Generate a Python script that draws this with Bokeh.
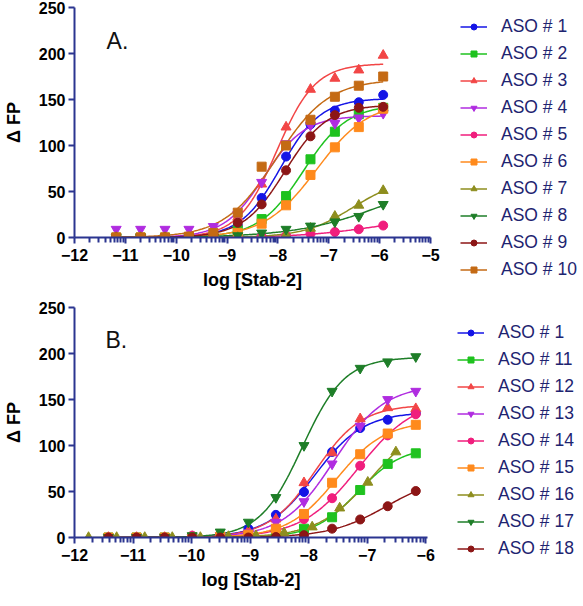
import numpy as np
from bokeh.plotting import figure
from bokeh.layouts import column
from bokeh.models import FixedTicker, Legend, LegendItem, Label
from bokeh.embed import file_html
from bokeh.resources import INLINE

FONT = "Liberation Sans"
AXIS_COLOR = "#2B3590"
LEGEND_TEXT = "#1E2470"

# ---------------- Panel A data ----------------
log_conc_a = [-11.18, -10.70, -10.22, -9.75, -9.27, -8.79, -8.32, -7.84, -7.36, -6.88, -6.41, -5.93]
names_a = ["ASO # 1", "ASO # 2", "ASO # 3", "ASO # 4", "ASO # 5",
           "ASO # 6", "ASO # 7", "ASO # 8", "ASO # 9", "ASO # 10"]
aso1_a = [0, 0, 0, 1, 4, 13, 43, 88, 123, 138, 147, 155]
aso2_a = [0, 0, 0, 0, 1, 8, 20, 45, 85, 115, 134, 141]
aso3_a = [0, 0, 0, 0, 3, 22, 58, 120, 161, 173, 182, 198]
aso4_a = [9, 9, 9, 9, 12, 25, 60, 102, 122, 124, 130, 135]
aso5_a = [0, 0, 0, 0, 0, 0, 1, 2, 4, 6, 9, 13]
aso6_a = [0, 0, 0, 0, 1, 5, 15, 35, 68, 98, 120, 140]
aso7_a = [0, 0, 0, 0, 0, 0, 1, 3, 10, 23, 35, 51]
aso8_a = [0, 0, 0, 0, 0, 2, 5, 9, 12.5, 17, 23, 36]
aso9_a = [0, 0, 0, 0, 3, 16, 36, 73, 110, 133, 141, 142]
aso10_a = [0, 0, 0, 1, 5, 27, 77, 100, 128, 153, 165, 175]
values_a = [aso1_a, aso2_a, aso3_a, aso4_a, aso5_a, aso6_a, aso7_a, aso8_a, aso9_a, aso10_a]
xs_a = [log_conc_a] * 10

# ---------------- Panel B data ----------------
log_conc_b = [-11.42, -10.94, -10.46, -9.99, -9.51, -9.03, -8.56, -8.08, -7.60, -7.12, -6.65, -6.17]
log_conc_b16 = [-11.76, -11.28, -10.80, -10.33, -9.85, -9.37, -8.90, -8.42, -7.94, -7.47, -6.99, -6.51]
names_b = ["ASO # 1", "ASO # 11", "ASO # 12", "ASO # 13", "ASO # 14",
           "ASO # 15", "ASO # 16", "ASO # 17", "ASO # 18"]
aso1_b = [0, 0, 0, 1, 3, 9.6, 24.6, 49.5, 93, 119, 128, 135]
aso11_b = [0, 0, 0, 0, 0, 1, 3, 9.6, 22, 51.6, 80, 91.5]
aso12_b = [0, 0, 0, 1, 3, 7, 20, 59.5, 92, 129, 141, 140]
aso13_b = [0, 0, 0, 0, 2, 5, 16.7, 39, 80, 121, 150, 159]
aso14_b = [0, 0, 0, 2, 1, 2, 8, 20, 42.7, 78, 111, 134]
aso15_b = [0, 0, 0, 0, 1, 3, 9.6, 25.6, 59.5, 90.5, 113, 122.5]
aso16_b = [0, 0, 0, 0, 0, 1, 2, 5, 11.4, 32, 60, 93]
aso17_b = [0, 0, 0, 2, 6, 16.7, 43.5, 100, 159, 184, 191, 196.6]
aso18_b = [0, 0, 0, 0, 0, 0, 0.5, 2.5, 9.6, 19.6, 34, 50.5]
values_b = [aso1_b, aso11_b, aso12_b, aso13_b, aso14_b, aso15_b, aso16_b, aso17_b, aso18_b]
xs_b = [log_conc_b] * 6 + [log_conc_b16] + [log_conc_b] * 2

colors_a = ["#1414E6", "#1FC21F", "#F24646", "#B02CE0", "#F01E7D",
            "#FF8A1C", "#8E8E1E", "#1E7E28", "#8C1616", "#C46A14"]
markers_a = ["circle", "square", "triangle", "inverted_triangle", "circle",
             "square", "triangle", "inverted_triangle", "circle", "square"]
colors_b = colors_a[:9]
markers_b = markers_a[:9]

x_ticks_a = list(range(-12, -4))
x_ticks_b = list(range(-12, -5))
y_ticks = [0, 50, 100, 150, 200, 250]


def fit_curve(xs, ys):
    """Least-squares fit of a sigmoid (bottom 0): top, logEC50, hill."""
    x = np.asarray(xs, float)
    y = np.asarray(ys, float)
    cs = np.arange(-10.0, -3.0, 0.01)
    hs = np.arange(0.5, 2.51, 0.05)
    C, H = np.meshgrid(cs, hs, indexing="ij")
    f = 1.0 / (1.0 + 10 ** ((C[..., None] - x) * H[..., None]))
    top = (f * y).sum(-1) / (f * f).sum(-1)
    sse = ((y - top[..., None] * f) ** 2).sum(-1)
    i = np.unravel_index(np.argmin(sse), sse.shape)
    c, h, t = C[i], H[i], top[i]
    xc = np.linspace(x.min(), x.max(), 200)
    yc = t / (1.0 + 10 ** ((c - xc) * h))
    return xc, yc


def minor_ticks(lo, hi):
    out = []
    for d in range(lo, hi):
        for k in range(2, 10):
            out.append(round(float(d + np.log10(k)), 4))
    return out


def style_axes(p):
    for ax in (p.xaxis[0], p.yaxis[0]):
        ax.axis_line_color = AXIS_COLOR
        ax.axis_line_width = 2
        ax.major_tick_line_color = AXIS_COLOR
        ax.major_tick_line_width = 2
        ax.major_tick_out = 6
        ax.major_tick_in = 0
        ax.minor_tick_line_color = AXIS_COLOR
        ax.minor_tick_line_width = 2
        ax.minor_tick_out = 5
        ax.minor_tick_in = 0
        ax.major_label_text_font = FONT
        ax.major_label_text_font_style = "bold"
        ax.major_label_text_font_size = "16px"
        ax.major_label_text_color = "black"
        ax.axis_label_text_font = FONT
        ax.axis_label_text_font_style = "bold"
        ax.axis_label_text_font_size = "18px"
        ax.axis_label_text_color = "black"
    p.yaxis.minor_tick_line_color = None
    p.xaxis.major_label_standoff = 5
    p.yaxis.major_label_standoff = 3
    p.xaxis.axis_label_standoff = 6
    p.yaxis.axis_label_standoff = 12
    p.xgrid.visible = False
    p.ygrid.visible = False
    p.outline_line_color = None


def make_panel(xs_list, vals, names, colors, markers, x_end, x_ticks, minor_hi,
               frame_w, right, top, bottom, letter, letter_x, letter_y, leg_y):
    p = figure(frame_width=frame_w, frame_height=230,
               x_range=(-12, x_end), y_range=(0, 250),
               output_backend="svg", toolbar_location=None,
               min_border_left=73, min_border_right=right,
               min_border_top=top, min_border_bottom=bottom,
               background_fill_color="white", border_fill_color="white")
    p.xaxis.ticker = FixedTicker(ticks=x_ticks, minor_ticks=minor_ticks(-12, minor_hi))
    p.yaxis.ticker = FixedTicker(ticks=y_ticks)
    p.xaxis.axis_label = "log [Stab-2]"
    p.yaxis.axis_label = "\u0394 FP"
    style_axes(p)

    line_rs = []
    for xs, ys, c in zip(xs_list, vals, colors):
        xc, yc = fit_curve(xs, ys)
        line_rs.append(p.line(xc, yc, line_color=c, line_width=1.5))
    scat_rs = []
    for xs, ys, c, m in zip(xs_list, vals, colors, markers):
        sz = 10 if "triangle" in m else 9
        scat_rs.append(p.scatter(xs, ys, marker=m, size=sz, fill_color=c, line_color=c))
    items = [LegendItem(label=n, renderers=[lr, sr])
             for n, lr, sr in zip(names, line_rs, scat_rs)]

    leg = Legend(items=items, location=(30, leg_y))
    leg.border_line_color = None
    leg.background_fill_alpha = 0
    leg.inactive_fill_alpha = 0
    leg.padding = 0
    leg.margin = 0
    leg.spacing = 6
    leg.glyph_width = 27
    leg.glyph_height = 15
    leg.label_height = 21
    leg.label_standoff = 14
    leg.label_text_font = FONT
    leg.label_text_font_size = "17.5px"
    leg.label_text_color = LEGEND_TEXT
    leg.label_text_baseline = "middle"
    p.add_layout(leg, "right")

    p.add_layout(Label(x=letter_x, y=letter_y, text=letter, text_font=FONT,
                       text_font_size="23px", text_color="#111111",
                       text_baseline="alphabetic"))
    return p


pA = make_panel(xs_a, values_a, names_a, colors_a, markers_a, -5.0, x_ticks_a, -5,
                356, 138, 7, 55, "A.", -11.37, 214, -43)
pB = make_panel(xs_b, values_b, names_b, colors_b, markers_b, -5.97, x_ticks_b, -6,
                353, 141, 15, 52, "B.", -11.47, 215, -22)

layout = column(pA, pB, spacing=0)
open("out.html", "w").write(file_html(layout, INLINE))
